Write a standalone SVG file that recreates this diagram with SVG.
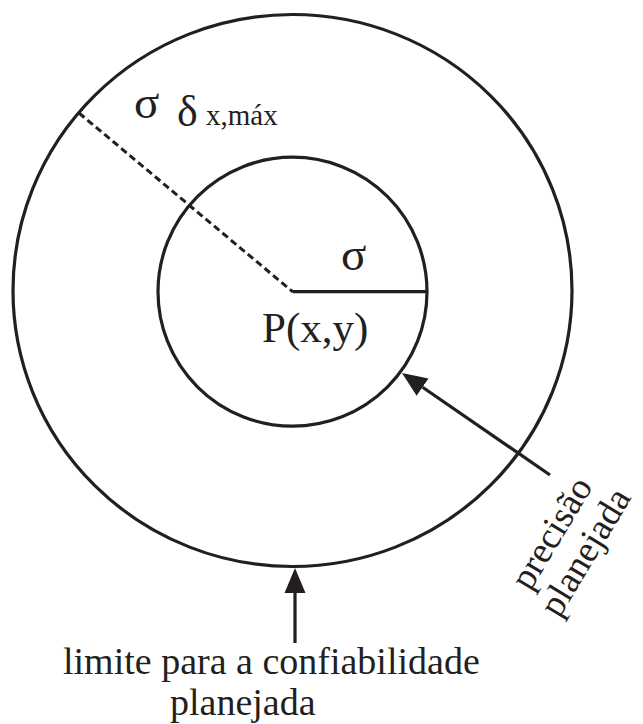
<svg xmlns="http://www.w3.org/2000/svg" width="643" height="724" viewBox="0 0 643 724">
<style>
.c{fill:none;stroke:#231f20;stroke-width:3.2}
.l{stroke:#231f20;stroke-width:3.2;fill:none}
.d{stroke:#231f20;stroke-width:3;stroke-dasharray:7 4;fill:none}
.t{font-family:"Liberation Serif","Times New Roman",serif;fill:#231f20}
</style>
<defs>
<marker id="ah" markerUnits="userSpaceOnUse" markerWidth="26" markerHeight="24" viewBox="0 -12 26 24" refX="0" refY="0" orient="auto">
<path d="M0,-10.5 L25,0 L0,10.5 Z" fill="#231f20"/>
</marker>
</defs>
<rect width="643" height="724" fill="#ffffff"/>
<g id="outer-circle"><ellipse class="c" cx="292.5" cy="290.5" rx="279.5" ry="276"/></g>
<g id="inner-circle"><circle class="c" cx="292.5" cy="291.7" r="134.5"/></g>
<g id="radii">
<line class="d" x1="79" y1="113" x2="293" y2="292"/>
<line class="l" x1="293" y1="291.7" x2="427" y2="291.7"/>
</g>
<g id="labels">
<text class="t" x="134" y="118" font-size="47">σ</text>
<text class="t" x="177" y="126" font-size="44">δ</text>
<text class="t" x="206" y="125" font-size="29">x,máx</text>
<text class="t" x="341" y="270" font-size="47">σ</text>
<text class="t" x="262" y="342" font-size="43">P(x,y)</text>
</g>
<g id="connectors">
<line class="l" x1="550" y1="475" x2="422.6" y2="387.2" marker-end="url(#ah)"/>
<line class="l" x1="295" y1="643" x2="295" y2="593" marker-end="url(#ah)"/>
</g>
<g id="label-precisao">
<text class="t" font-size="37" transform="translate(530,592) rotate(-59)">precisão</text>
<text class="t" font-size="37" transform="translate(559,619) rotate(-59)">planejada</text>
</g>
<g id="label-limite">
<text class="t" x="63" y="674" font-size="38">limite para a confiabilidade</text>
<text class="t" x="170" y="715" font-size="38">planejada</text>
</g>
</svg>
